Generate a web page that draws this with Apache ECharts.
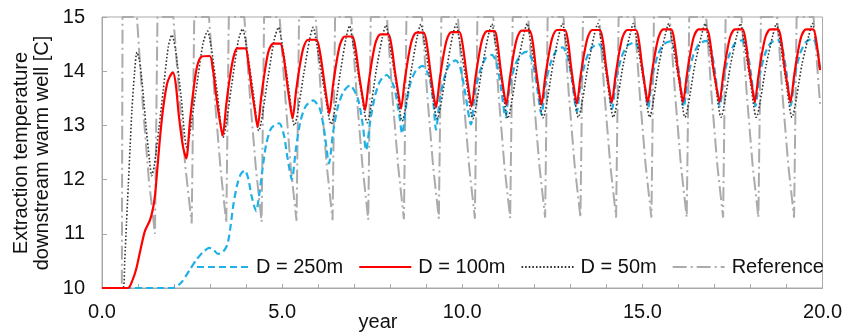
<!DOCTYPE html>
<html>
<head>
<meta charset="utf-8">
<script src="https://cdn.jsdelivr.net/npm/echarts@6/dist/echarts.min.js"></script>
<style>
html,body{margin:0;padding:0;background:#fff;}
#chart{width:845px;height:335px;}
</style>
</head>
<body>
<div id="chart"></div>
<script>
// ---- Data ----
const seriesNames = ['D = 250m', 'D = 100m', 'D = 50m', 'Reference'];
const xTickLabels = ['0.0', '5.0', '10.0', '15.0', '20.0'];
const yTicks = [10, 11, 12, 13, 14, 15];
const yTitle = ['Extraction temperature', 'downstream warm well [C]'];
const xTitle = 'year';

// D = 100m (red solid)
const d100 = [
[0,10],[0.72,10],[0.85,10.15],[0.95,10.35],[1.05,10.65],[1.19,11.05],[1.33,11.25],[1.41,11.45],[1.47,11.7],[1.53,12.15],[1.6,12.7],[1.69,13.28],[1.8,13.75],[1.88,13.9],[1.97,13.98],[2.05,13.75],[2.13,13.2],[2.25,12.6],[2.34,12.39],
[2.44,13.07],[2.54,13.66],[2.64,14.09],[2.77,14.27],[2.99,14.28],[3.08,14.03],[3.17,13.55],[3.26,13.13],[3.35,12.81],
[3.45,13.39],[3.55,13.89],[3.65,14.26],[3.75,14.42],[3.98,14.42],[4.06,14.17],[4.15,13.7],[4.24,13.29],[4.32,12.97],
[4.42,13.52],[4.52,14.0],[4.62,14.36],[4.75,14.51],[4.95,14.51],[5.04,14.28],[5.13,13.82],[5.21,13.43],[5.29,13.13],
[5.39,13.65],[5.49,14.1],[5.59,14.43],[5.72,14.58],[5.95,14.58],[6.05,14.35],[6.15,13.9],[6.23,13.52],[6.31,13.22],
[6.41,13.73],[6.51,14.17],[6.61,14.5],[6.74,14.64],[6.95,14.64],[7.04,14.41],[7.13,13.96],[7.22,13.58],[7.30,13.28],
[7.4,13.78],[7.5,14.22],[7.6,14.54],[7.73,14.68],[7.95,14.68],[8.04,14.45],[8.13,14.0],[8.22,13.61],[8.30,13.31],
[8.4,13.81],[8.5,14.25],[8.6,14.57],[8.73,14.71],[8.93,14.71],[9.02,14.48],[9.11,14.02],[9.19,13.63],[9.27,13.33],
[9.37,13.83],[9.47,14.26],[9.57,14.58],[9.7,14.72],[9.92,14.72],[10.01,14.49],[10.1,14.04],[10.18,13.65],[10.26,13.35],
[10.36,13.85],[10.46,14.28],[10.56,14.6],[10.69,14.74],[10.9,14.74],[10.98,14.51],[11.06,14.06],[11.14,13.68],[11.22,13.38],
[11.32,13.87],[11.42,14.3],[11.52,14.61],[11.65,14.75],[11.87,14.75],[11.96,14.52],[12.04,14.07],[12.12,13.68],[12.2,13.38],
[12.3,13.88],[12.4,14.3],[12.5,14.62],[12.63,14.76],[12.85,14.76],[12.94,14.53],[13.02,14.08],[13.1,13.7],[13.18,13.4],
[13.28,13.89],[13.38,14.31],[13.48,14.62],[13.61,14.76],[13.82,14.76],[13.91,14.53],[13.99,14.09],[14.07,13.71],[14.15,13.42],
[14.25,13.9],[14.35,14.32],[14.45,14.63],[14.58,14.76],[14.82,14.76],[14.91,14.53],[14.99,14.09],[15.07,13.72],[15.15,13.42],
[15.25,13.91],[15.35,14.32],[15.45,14.63],[15.58,14.77],[15.8,14.77],[15.89,14.54],[15.97,14.1],[16.05,13.73],[16.13,13.43],
[16.23,13.91],[16.33,14.33],[16.43,14.64],[16.56,14.77],[16.79,14.77],[16.88,14.54],[16.96,14.1],[17.05,13.73],[17.14,13.43],
[17.24,13.91],[17.34,14.33],[17.44,14.64],[17.57,14.77],[17.78,14.77],[17.87,14.54],[17.95,14.1],[18.04,13.73],[18.12,13.43],
[18.22,13.91],[18.32,14.33],[18.42,14.64],[18.55,14.77],[18.77,14.77],[18.86,14.54],[18.94,14.1],[19.03,13.73],[19.11,13.43],
[19.21,13.91],[19.31,14.33],[19.41,14.64],[19.54,14.77],[19.74,14.77],[19.83,14.54],[19.93,14.02]
];

// D = 50m (black dotted)
const d50 = [
[0,10],[0.58,10],[0.63,10.5],[0.68,11.2],[0.73,11.9],[0.78,12.6],[0.83,13.28],[0.9,13.95],[0.97,14.35],[1.04,14.2],[1.12,13.75],[1.22,13.0],[1.32,12.35],[1.38,12.07],[1.45,12.25],[1.58,12.95],[1.7,13.65],[1.84,14.45],[1.94,14.67],[2.04,14.4],[2.2,13.5],[2.35,12.6],
[2.6,13.6],[2.8,14.5],[2.93,14.74],[3.03,14.45],[3.2,13.6],[3.36,12.78],
[3.6,13.75],[3.78,14.55],[3.9,14.78],[4.0,14.5],[4.2,13.6],[4.35,12.9],
[4.6,13.85],[4.78,14.58],[4.9,14.81],[5.0,14.5],[5.18,13.7],[5.34,13.0],
[5.6,13.95],[5.76,14.58],[5.86,14.81],[5.96,14.5],[6.16,13.7],[6.36,13.02],
[6.62,14.0],[6.77,14.6],[6.87,14.84],[6.97,14.5],[7.17,13.72],[7.36,13.05],
[7.62,14.05],[7.78,14.62],[7.88,14.85],[7.98,14.52],[8.17,13.75],[8.33,13.08],
[8.6,14.08],[8.75,14.64],[8.85,14.87],[8.95,14.53],[9.13,13.78],[9.3,13.12],
[9.58,14.1],[9.73,14.65],[9.83,14.87],[9.93,14.53],[10.12,13.78],[10.29,13.12],
[10.56,14.1],[10.72,14.65],[10.82,14.87],[10.92,14.53],[11.1,13.8],[11.26,13.13],
[11.54,14.12],[11.7,14.66],[11.8,14.88],[11.9,14.54],[12.08,13.8],[12.24,13.14],
[12.52,14.13],[12.68,14.66],[12.78,14.88],[12.88,14.54],[13.06,13.8],[13.22,13.15],
[13.5,14.13],[13.66,14.66],[13.76,14.88],[13.86,14.54],[14.03,13.8],[14.19,13.15],
[14.47,14.13],[14.65,14.66],[14.75,14.88],[14.85,14.54],[15.04,13.8],[15.2,13.15],
[15.46,14.13],[15.63,14.66],[15.73,14.88],[15.83,14.54],[16.02,13.8],[16.18,13.15],
[16.46,14.13],[16.64,14.66],[16.74,14.88],[16.84,14.54],[17.02,13.8],[17.18,13.15],
[17.45,14.13],[17.62,14.66],[17.72,14.88],[17.82,14.54],[18.0,13.8],[18.16,13.15],
[18.44,14.13],[18.62,14.66],[18.72,14.88],[18.82,14.54],[18.99,13.8],[19.15,13.15],
[19.43,14.13],[19.62,14.66],[19.72,14.88],[19.82,14.54],[19.93,14.05]
];

// D = 250m (blue dashed)
const d250 = [
[0,10],[1.96,10],[2.2,10.1],[2.45,10.35],[2.62,10.52],[2.8,10.66],[2.98,10.74],[3.1,10.7],[3.22,10.63],[3.35,10.66],[3.48,10.8],[3.56,11.1],[3.65,11.55],[3.75,11.9],[3.85,12.1],[3.96,12.17],[4.06,12.02],[4.15,11.7],[4.28,11.42],[4.36,11.7],[4.46,12.22],[4.56,12.66],[4.7,12.95],[4.92,13.04],[5.05,12.82],[5.15,12.4],[5.27,12.0],
[5.38,12.55],[5.5,13.05],[5.65,13.35],[5.86,13.46],[6.05,13.3],[6.18,12.85],[6.3,12.3],
[6.42,12.9],[6.55,13.35],[6.7,13.62],[6.88,13.74],[7.1,13.5],[7.24,13.0],[7.33,12.54],
[7.45,13.1],[7.58,13.55],[7.72,13.82],[7.9,13.93],[8.1,13.72],[8.24,13.25],[8.33,12.85],
[8.45,13.4],[8.57,13.8],[8.72,14.02],[8.9,14.1],[9.08,13.9],[9.2,13.4],[9.27,12.92],
[9.38,13.5],[9.52,13.92],[9.66,14.14],[9.82,14.2],[9.95,14.05],[10.08,13.6],[10.24,13.02],
[10.35,13.6],[10.5,14.02],[10.65,14.24],[10.82,14.3],[10.95,14.16],[11.07,13.72],[11.2,13.15],
[11.31,13.7],[11.46,14.1],[11.62,14.3],[11.8,14.36],[11.93,14.22],[12.06,13.78],[12.2,13.2],
[12.31,13.76],[12.46,14.17],[12.61,14.38],[12.78,14.44],[12.91,14.3],[13.04,13.85],[13.18,13.25],
[13.29,13.81],[13.44,14.22],[13.6,14.44],[13.78,14.5],[13.91,14.36],[14.03,13.9],[14.16,13.3],
[14.27,13.85],[14.42,14.26],[14.58,14.47],[14.78,14.53],[14.91,14.39],[15.03,13.93],[15.16,13.33],
[15.27,13.88],[15.42,14.28],[15.58,14.49],[15.77,14.55],[15.9,14.41],[16.02,13.95],[16.15,13.34],
[16.26,13.89],[16.41,14.29],[16.57,14.5],[16.77,14.56],[16.9,14.42],[17.02,13.96],[17.15,13.35],
[17.26,13.9],[17.41,14.3],[17.57,14.51],[17.76,14.57],[17.89,14.43],[18.01,13.97],[18.14,13.36],
[18.25,13.91],[18.4,14.31],[18.56,14.52],[18.75,14.58],[18.88,14.44],[19.0,13.98],[19.12,13.37],
[19.23,13.92],[19.38,14.33],[19.54,14.54],[19.73,14.6],[19.86,14.4],[19.93,13.98]
];

// Reference (grey dash-dot)
const dRef = [
[0,10],[0.55,10],[0.57,15],[0.97,15],[1.13,13.4],[1.3,12.0],[1.47,11.0],[1.54,15],
[1.98,15],[2.15,13.5],[2.32,12.2],[2.49,11.19],[2.56,15],
[2.97,15],[3.13,13.5],[3.29,12.2],[3.45,11.2],[3.52,15],
[3.95,15],[4.11,13.5],[4.27,12.22],[4.43,11.22],[4.5,15],
[4.93,15],[5.09,13.5],[5.24,12.22],[5.40,11.24],[5.47,15],
[5.93,15],[6.08,13.55],[6.24,12.25],[6.40,11.25],[6.47,15],
[6.92,15],[7.07,13.55],[7.23,12.25],[7.39,11.26],[7.46,15],
[7.91,15],[8.06,13.55],[8.22,12.25],[8.38,11.27],[8.45,15],
[8.88,15],[9.03,13.55],[9.19,12.25],[9.35,11.28],[9.42,15],
[9.88,15],[10.03,13.55],[10.19,12.25],[10.35,11.28],[10.42,15],
[10.86,15],[11.01,13.55],[11.17,12.25],[11.33,11.29],[11.4,15],
[11.83,15],[11.98,13.55],[12.14,12.26],[12.30,11.3],[12.37,15],
[12.81,15],[12.96,13.55],[13.12,12.26],[13.28,11.3],[13.35,15],
[13.8,15],[13.95,13.55],[14.11,12.26],[14.27,11.3],[14.34,15],
[14.78,15],[14.93,13.55],[15.09,12.26],[15.25,11.3],[15.32,15],
[15.76,15],[15.91,13.55],[16.07,12.26],[16.23,11.3],[16.3,15],
[16.77,15],[16.92,13.55],[17.08,12.26],[17.24,11.3],[17.31,15],
[17.75,15],[17.9,13.55],[18.06,12.26],[18.22,11.3],[18.29,15],
[18.74,15],[18.89,13.55],[19.05,12.26],[19.21,11.3],[19.28,15],
[19.75,15],[19.93,13.4]
];

// ---- Chart ----
const FONT = '"Liberation Sans", Arial, sans-serif';
const chart = echarts.init(document.getElementById('chart'), null, {renderer: 'canvas'});
const lbl = {};
xTickLabels.forEach(s => { lbl[parseFloat(s)] = s; });

const option = {
  animation: false,
  backgroundColor: '#ffffff',
  grid: {left: 102, top: 17, width: 723, height: 271, show: true, borderColor: '#a8a8a8', borderWidth: 1, backgroundColor: 'transparent'},
  xAxis: {
    type: 'value', min: 0, max: 20, interval: 1,
    axisLine: {show: true, lineStyle: {color: '#a8a8a8', width: 1}},
    axisTick: {show: true, inside: true, length: 4, lineStyle: {color: '#a8a8a8'}},
    axisLabel: {fontSize: 20, fontFamily: FONT, color: '#111', margin: 14,
      formatter: v => (lbl[v] !== undefined ? lbl[v] : '')},
    splitLine: {show: false}
  },
  yAxis: {
    type: 'value', min: yTicks[0], max: yTicks[yTicks.length - 1], interval: 1,
    axisLine: {show: true, lineStyle: {color: '#a8a8a8', width: 1}},
    axisTick: {show: true, inside: true, length: 5, lineStyle: {color: '#a8a8a8'}},
    axisLabel: {fontSize: 20, fontFamily: FONT, color: '#111', margin: 17},
    splitLine: {show: false}
  },
  legend: {
    data: seriesNames,
    left: 196, top: 257, padding: 0,
    itemWidth: 52, itemHeight: 14, itemGap: 15,
    itemStyle: {opacity: 0},
    textStyle: {fontSize: 20, fontFamily: FONT, color: '#111', padding: [0, 0, 0, 2]}
  },
  graphic: [
    {type: 'text', x: 32, y: 153, rotation: Math.PI / 2,
      style: {text: yTitle.join('\n'), font: '20px ' + FONT, fill: '#111', align: 'center', verticalAlign: 'middle', lineHeight: 21}},
    {type: 'text', x: 378, y: 322,
      style: {text: xTitle, font: '20px ' + FONT, fill: '#111', align: 'center', verticalAlign: 'middle'}}
  ],
  series: [
    {name: seriesNames[3], type: 'line', data: dRef, symbol: 'none', showSymbol: false, z: 1,
      itemStyle: {color: '#ababab'},
      lineStyle: {color: '#ababab', width: 2, type: [14, 4, 2, 4]}},
    {name: seriesNames[0], type: 'line', data: d250, symbol: 'none', showSymbol: false, smooth: 0.25, z: 2,
      itemStyle: {color: '#1eb0e6'},
      lineStyle: {color: '#1eb0e6', width: 2.2, type: [7, 4]}},
    {name: seriesNames[2], type: 'line', data: d50, symbol: 'none', showSymbol: false, smooth: 0.25, z: 3,
      itemStyle: {color: '#333333'},
      lineStyle: {color: '#333333', width: 1.6, type: [1.6, 2]}},
    {name: seriesNames[1], type: 'line', data: d100, symbol: 'none', showSymbol: false, smooth: 0.25, z: 4,
      itemStyle: {color: '#ff0000'},
      lineStyle: {color: '#ff0000', width: 2.2}}
  ]
};
chart.setOption(option);
</script>
</body>
</html>
